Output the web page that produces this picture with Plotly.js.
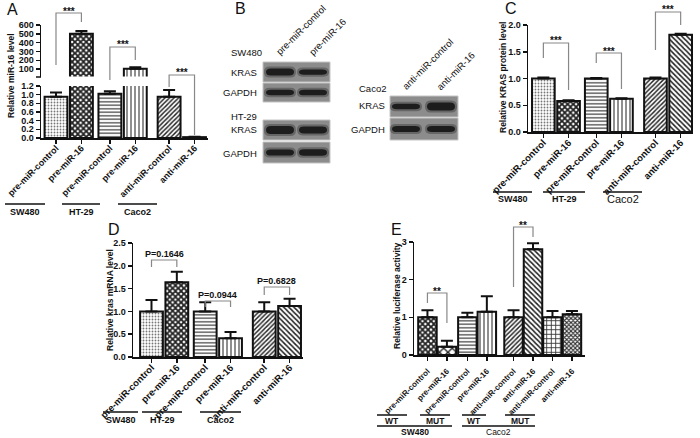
<!DOCTYPE html>
<html><head><meta charset="utf-8">
<script src="https://cdn.plot.ly/plotly-3.0.1.min.js"></script>
<style>html,body{margin:0;padding:0;background:#fff}#chart{width:700px;height:438px}</style>
</head><body><div id="chart"></div>
<script>
// ---------------- DATA ----------------
const catsA = ['pre-miR-control','pre-miR-16','pre-miR-control','pre-miR-16','anti-miR-control','anti-miR-16'];
const groupA = [0,0,1,1,2,2];
const meanA = [0.95, 500, 1.02, 105, 0.95, 0.02];
const errA  = [0.10, 32, 0.06, 15, 0.16, 0.01];
const cellLinesA = ['SW480','HT-29','Caco2'];

const catsC = ['pre-miR-control','pre-miR-16','pre-miR-control','pre-miR-16','anti-miR-control','anti-miR-16'];
const groupC = [0,0,1,1,2,2];
const meanC = [1.0, 0.58, 1.0, 0.62, 1.0, 1.82];
const errC  = [0.02, 0.015, 0.01, 0.01, 0.02, 0.015];
const cellLinesC = ['SW480','HT-29','Caco2'];

const catsD = ['pre-miR-control','pre-miR-16','pre-miR-control','pre-miR-16','anti-miR-control','anti-miR-16'];
const groupD = [0,0,1,1,2,2];
const meanD = [1.0, 1.64, 1.0, 0.41, 1.0, 1.12];
const errD  = [0.25, 0.23, 0.20, 0.14, 0.20, 0.16];
const pValuesD = ['P=0.1646','P=0.0944','P=0.6828'];
const cellLinesD = ['SW480','HT-29','Caco2'];

const catsE = ['pre-miR-control','pre-miR-16','pre-miR-control','pre-miR-16','anti-miR-control','anti-miR-16','anti-miR-control','anti-miR-16'];
const groupE = [0,0,1,1,2,2,3,3];
const meanE = [1.0, 0.22, 1.0, 1.15, 1.0, 2.81, 1.0, 1.08];
const errE  = [0.19, 0.16, 0.12, 0.41, 0.19, 0.16, 0.17, 0.09];
const constructE = ['WT','MUT','WT','MUT'];
const cellLinesE = ['SW480','Caco2'];

// western blot (relative band intensity)
const lanesB1 = ['pre-miR-control','pre-miR-16'];
const lanesB2 = ['anti-miR-control','anti-miR-16'];
const krasSW480 = [1.0, 0.75];
const gapdhSW480 = [0.9, 0.95];
const krasHT29 = [1.0, 0.85];
const gapdhHT29 = [0.95, 1.0];
const krasCaco2 = [0.7, 1.0];
const gapdhCaco2 = [0.95, 0.9];

// ---------------- LAYOUT HELPERS ----------------
const W = 700, H = 438;
const X = px => px / W, Y = py => 1 - py / H;
const FONT = 'Liberation Sans, Arial, Helvetica, sans-serif';
const INK = '#111';
const shapes = [], annotations = [];

function positions(groups, offs) { return groups.map((g, i) => i + offs[g]); }
function mapX(g, p) { return g.x0 + (p - g.r0) / (g.r1 - g.r0) * (g.x1 - g.x0); }

const gA = {x0: 41, x1: 208, r0: -0.59, r1: 5.98, offs: [0, 0.12, 0.45]};
const gC = {x0: 528, x1: 693, r0: -0.61, r1: 5.94, offs: [0, 0.10, 0.45]};
const gD = {x0: 133, x1: 303, r0: -0.73, r1: 5.98, offs: [0, 0.12, 0.45]};
const gE = {x0: 414, x1: 585, r0: -0.69, r1: 8.09, offs: [0, 0.05, 0.42, 0.42]};
const upperRangeA = [10, 600];

const posA = positions(groupA, gA.offs);
const posC = positions(groupC, gC.offs);
const posD = positions(groupD, gD.offs);
const posE = positions(groupE, gE.offs);

const pat6 = {shape: ['.', 'x', '-', '|', '/', '\\'], fg: ['#777', '#222', '#555', '#444', '#222', '#222'],
  size: [3, 4, 3.5, 4, 3.2, 3.6], sol: [0.3, 0.7, 0.4, 0.3, 0.45, 0.45]};
const pat8 = {shape: ['x', 'x', '-', '|', '/', '\\', '+', 'x'], fg: ['#222', '#222', '#555', '#444', '#222', '#222', '#333', '#333'],
  size: [4, 6, 3.5, 4, 3.2, 3.6, 4.5, 3], sol: [0.7, 0.4, 0.4, 0.3, 0.45, 0.45, 0.35, 0.6]};

function barTrace(pos, mean, err, xa, ya, pat, width) {
  return {type: 'bar', x: pos, y: mean, xaxis: xa, yaxis: ya, width: width,
    marker: {color: 'white', line: {color: INK, width: 2},
      pattern: {shape: pat.shape, fgcolor: pat.fg, bgcolor: 'white', size: pat.size, solidity: pat.sol, fillmode: 'replace'}},
    error_y: {type: 'data', symmetric: false, array: err, arrayminus: err.map(() => 0), color: INK, thickness: 2, width: 6},
    hoverinfo: 'skip', showlegend: false};
}

function xAxis(g, pos, cats, anchor, fs, standoff) {
  return {domain: [X(g.x0), X(g.x1)], range: [g.r0, g.r1], anchor: anchor, tickmode: 'array', tickvals: pos, ticktext: cats,
    tickangle: -45, ticks: 'outside', ticklen: 4, tickwidth: 1.5, tickcolor: INK, showline: true, linecolor: INK, linewidth: 1.5,
    ticklabelstandoff: standoff,
    showgrid: false, zeroline: false, fixedrange: true, tickfont: {family: FONT, size: fs, color: INK, weight: 'bold'}};
}
function yAxis(top, bot, range, vals, fmt, anchor) {
  return {domain: [Y(bot), Y(top)], range: range, anchor: anchor, tickmode: 'array', tickvals: vals, tickformat: fmt,
    ticks: 'outside', ticklen: 4, tickwidth: 1.5, tickcolor: INK, showline: true, linecolor: INK, linewidth: 1.5,
    showgrid: false, zeroline: false, fixedrange: true, tickfont: {family: FONT, size: 9, color: INK, weight: 'bold'}};
}

function text(px, py, t, opt) {
  opt = opt || {};
  annotations.push({xref: 'paper', yref: 'paper', x: X(px), y: Y(py), text: t, showarrow: false,
    xanchor: opt.xa || 'center', yanchor: 'middle', textangle: opt.angle || 0,
    font: {family: FONT, size: opt.size || 9, color: INK, weight: opt.weight || 'bold'}});
}
function line(x0, y0, x1, y1, color, w) {
  shapes.push({type: 'line', xref: 'paper', yref: 'paper', x0: X(x0), y0: Y(y0), x1: X(x1), y1: Y(y1),
    line: {color: color || INK, width: w || 1.5}});
}
function bracket(g, pos, iL, iR, top, botL, botR, label, fs) {
  const xl = mapX(g, pos[iL]), xr = mapX(g, pos[iR]);
  shapes.push({type: 'path', xref: 'paper', yref: 'paper',
    path: `M${X(xl)},${Y(botL)} L${X(xl)},${Y(top)} L${X(xr)},${Y(top)} L${X(xr)},${Y(botR)}`,
    line: {color: '#888', width: 1.2}});
  text((xl + xr) / 2, top - (label.startsWith('P') ? 6 : 2), label, {size: fs || 9});
}
function groupLabel(x0, x1, yLine, label, opt, dy) {
  line(x0, yLine, x1, yLine, INK, 1.5);
  text((x0 + x1) / 2, yLine + (dy || 7.5), label, opt);
}

// ---------------- TRACES ----------------
// upper segment of the broken axis only shows the bars that reach into it
const upperA = barTrace(posA, meanA.map(v => v > upperRangeA[0] ? v : null), errA, 'x5', 'y2', pat6, 0.9);
const traces = [
  barTrace(posA, meanA, errA, 'x', 'y', pat6, 0.9),
  upperA,
  barTrace(posC, meanC, errC, 'x2', 'y3', pat6, 0.9),
  barTrace(posD, meanD, errD, 'x3', 'y4', pat6, 0.9),
  barTrace(posE, meanE, errE, 'x4', 'y5', pat8, 0.95)
];
traces[0].marker.pattern.fgcolor = pat6.fg.map((c, i) => i === 5 ? INK : c);
traces[0].marker.pattern.solidity = pat6.sol.map((s, i) => i === 5 ? 1 : s);

// ---------------- ANNOTATIONS / SHAPES ----------------
// gap between the two segments of the broken axis in A
shapes.push({type: 'rect', xref: 'paper', yref: 'paper', x0: X(42), x1: X(210), y0: Y(85.4), y1: Y(76.6),
  fillcolor: 'white', line: {width: 0}, layer: 'above'});

text(12, 10, 'A', {size: 16, weight: 'normal'});
text(240, 8, 'B', {size: 16, weight: 'normal'});
text(511, 9, 'C', {size: 16, weight: 'normal'});
text(114, 229, 'D', {size: 16, weight: 'normal'});
text(396, 229, 'E', {size: 16, weight: 'normal'});

text(11, 76, 'Relative miR-16 level', {angle: -90, size: 8.5});
text(503, 77, 'Relative KRAS protein level', {angle: -90, size: 8.5});
text(110, 300, 'Relative kras mRNA level', {angle: -90, size: 8.5});
text(397, 296, 'Relative luciferase activity', {angle: -90, size: 8.5});

// axis break mark in A
line(36, 77, 41, 77, INK, 1.5);

bracket(gA, posA, 0, 1, 13, 65, 22, '***', 10);
bracket(gA, posA, 2, 3, 47, 80, 60, '***', 10);
bracket(gA, posA, 4, 5, 75, 87, 135, '***', 10);
bracket(gC, posC, 0, 1, 43, 58, 90, '***', 10);
bracket(gC, posC, 2, 3, 53, 63, 89, '***', 10);
bracket(gC, posC, 4, 5, 12, 50, 25, '***', 10);
bracket(gD, posD, 0, 1, 260, 267, 267, pValuesD[0], 9);
bracket(gD, posD, 2, 3, 301, 307, 307, pValuesD[1], 9);
bracket(gD, posD, 4, 5, 287, 295, 295, pValuesD[2], 9);
bracket(gE, posE, 0, 1, 293, 303, 323, '**', 10);
bracket(gE, posE, 4, 5, 227, 287, 237, '**', 10);

groupLabel(5, 45, 204, cellLinesA[0]);
groupLabel(62, 100, 204, cellLinesA[1]);
groupLabel(118, 157, 204, cellLinesA[2]);
groupLabel(493, 532, 192, cellLinesC[0], {size: 9});
groupLabel(543, 585, 192, cellLinesC[1], {size: 9});
groupLabel(603, 642, 192, cellLinesC[2], {size: 11, weight: 'normal'});
groupLabel(103, 138, 412, cellLinesD[0]);
groupLabel(142, 182, 412, cellLinesD[1]);
groupLabel(200, 241, 412, cellLinesD[2]);
groupLabel(377, 407, 415, constructE[0], {size: 8.5}, 5.5);
groupLabel(420, 450, 415, constructE[1], {size: 8.5}, 5.5);
groupLabel(462, 486, 415, constructE[2], {size: 8.5}, 5.5);
groupLabel(505, 535, 415, constructE[3], {size: 8.5}, 5.5);
groupLabel(377, 452, 426, cellLinesE[0], {size: 8.5}, 6);
groupLabel(462, 535, 426, cellLinesE[1], {size: 8.5, weight: 'normal'}, 6);

// ---------------- WESTERN BLOTS (panel B) ----------------
function bandPath(cx, cy, hw, hh) {
  const r = Math.min(hw * 0.35, 6);
  const l = cx - hw, rt = cx + hw, t = cy - hh, b = cy + hh;
  return `M${X(l)},${Y(cy)} Q${X(l)},${Y(t)} ${X(l + r)},${Y(t)} L${X(rt - r)},${Y(t)} Q${X(rt)},${Y(t)} ${X(rt)},${Y(cy)} ` +
         `Q${X(rt)},${Y(b)} ${X(rt - r)},${Y(b)} L${X(l + r)},${Y(b)} Q${X(l)},${Y(b)} ${X(l)},${Y(cy)} Z`;
}
function blot(x0, x1, y0, y1, lanes, hw, intens, maxH) {
  shapes.push({type: 'rect', xref: 'paper', yref: 'paper', x0: X(x0), x1: X(x1), y0: Y(y1), y1: Y(y0),
    fillcolor: '#8c8c8c', line: {color: '#c4c4c4', width: 1}});
  const cy = (y0 + y1) / 2;
  lanes.forEach((cx, i) => {
    const hh = maxH * intens[i] / 2;
    shapes.push({type: 'path', xref: 'paper', yref: 'paper', path: bandPath(cx, cy, hw + 1, hh + 2),
      fillcolor: '#555', opacity: 0.7, line: {width: 0}});
    shapes.push({type: 'path', xref: 'paper', yref: 'paper', path: bandPath(cx, cy, hw - 1, hh),
      fillcolor: '#1d1d1d', line: {width: 0}});
  });
}
blot(263, 330, 62, 82, [280, 313], 15, krasSW480, 7);
blot(263, 330, 83, 102, [280, 313], 15, gapdhSW480, 6);
blot(263, 330, 120, 140, [280, 313], 15, krasHT29, 8);
blot(263, 330, 142, 163, [280, 313], 15, gapdhHT29, 6.5);
blot(390, 458, 96, 117, [406, 441], 15, krasCaco2, 8);
blot(390, 458, 118, 140, [406, 441], 15, gapdhCaco2, 6.5);

const bf = {weight: 'normal', size: 9.5};
text(300, 30, lanesB1[0], Object.assign({angle: -45}, bf));
text(328, 37, lanesB1[1], Object.assign({angle: -45}, bf));
text(427, 64, lanesB2[0], Object.assign({angle: -45}, bf));
text(455, 71, lanesB2[1], Object.assign({angle: -45}, bf));
text(229, 52, 'SW480', Object.assign({xa: 'left'}, bf));
text(259, 72, 'KRAS', Object.assign({xa: 'right'}, bf));
text(259, 93, 'GAPDH', Object.assign({xa: 'right'}, bf));
text(229, 117, 'HT-29', Object.assign({xa: 'left'}, bf));
text(259, 130, 'KRAS', Object.assign({xa: 'right'}, bf));
text(259, 153, 'GAPDH', Object.assign({xa: 'right'}, bf));
text(357, 88, 'Caco2', Object.assign({xa: 'left'}, bf));
text(387, 106, 'KRAS', Object.assign({xa: 'right'}, bf));
text(387, 129, 'GAPDH', Object.assign({xa: 'right'}, bf));

// ---------------- LAYOUT ----------------
const layout = {
  width: W, height: H, margin: {l: 0, r: 0, t: 0, b: 0},
  paper_bgcolor: 'white', plot_bgcolor: 'rgba(0,0,0,0)', showlegend: false, bargap: 0,
  font: {family: FONT, color: INK},
  xaxis: xAxis(gA, posA, catsA, 'y', 9, -4),
  xaxis5: {domain: [X(gA.x0), X(gA.x1)], range: [gA.r0, gA.r1], anchor: 'y2', showline: false, ticks: '',
    showticklabels: false, showgrid: false, zeroline: false, fixedrange: true},
  yaxis: yAxis(86, 138, [0, 1.2], [0, 0.2, 0.4, 0.6, 0.8, 1.0, 1.2], '.1f', 'x'),
  yaxis2: yAxis(25, 77, upperRangeA, [100, 200, 300, 400, 500, 600], 'd', 'x5'),
  xaxis2: xAxis(gC, posC, catsC, 'y3', 9.5, -4),
  yaxis3: yAxis(25, 132, [0, 2.0], [0, 0.5, 1.0, 1.5, 2.0], '.1f', 'x2'),
  xaxis3: xAxis(gD, posD, catsD, 'y4', 9.5, -4),
  yaxis4: yAxis(243, 357, [0, 2.5], [0, 0.5, 1.0, 1.5, 2.0, 2.5], '.1f', 'x3'),
  xaxis4: xAxis(gE, posE, catsE, 'y5', 8, 3),
  yaxis5: yAxis(242, 355, [0, 3], [0, 1, 2, 3], 'd', 'x4'),
  shapes: shapes, annotations: annotations
};

Plotly.newPlot('chart', traces, layout, {staticPlot: true, displayModeBar: false});
</script>
</body></html>
